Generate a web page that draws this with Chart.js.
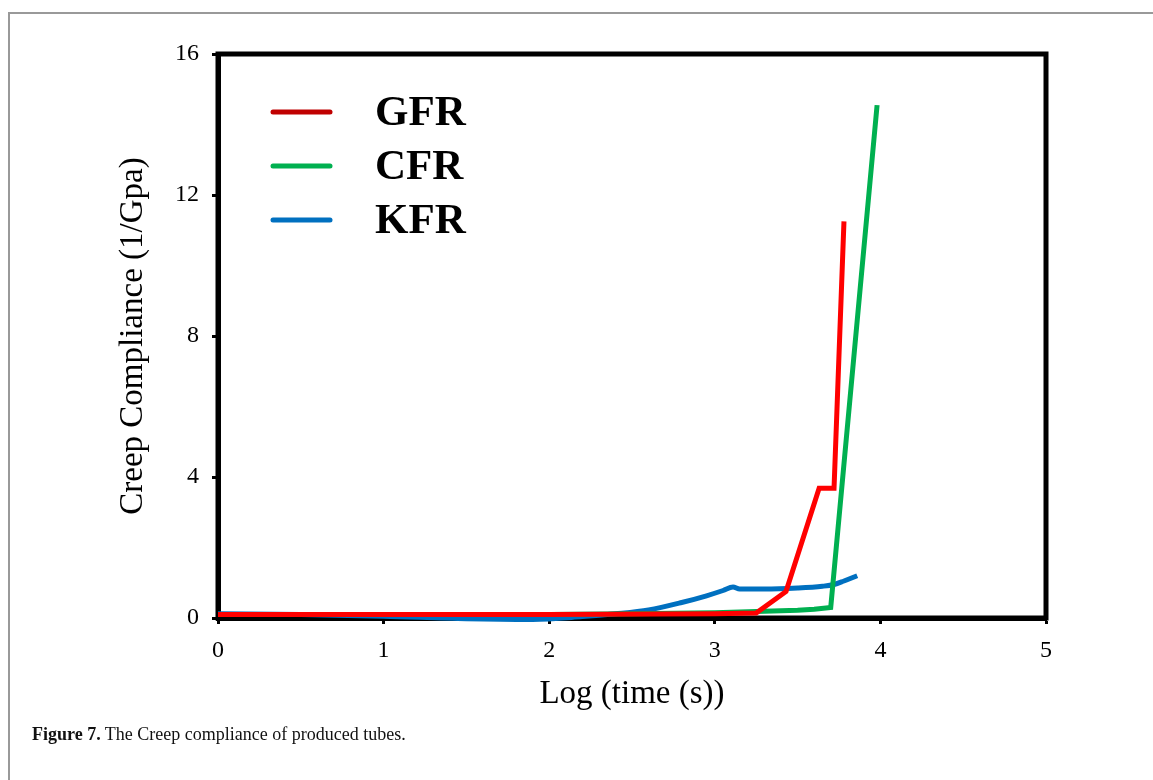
<!DOCTYPE html>
<html>
<head>
<meta charset="utf-8">
<script src="https://cdn.jsdelivr.net/npm/chart.js@4/dist/chart.umd.min.js"></script>
<style>
    html, body { margin: 0; padding: 0; background: #fff; overflow: hidden; }
    #frame {
        position: absolute; left: 8px; top: 12px; width: 1300px; height: 1000px;
        border-left: 2px solid #999; border-top: 2px solid #999;
    }
    #wrap { position: absolute; left: 0; top: 0; width: 1153px; height: 780px; }
    #caption {
        position: absolute; left: 32px; top: 724px;
        font-family: "Liberation Serif", serif; font-size: 18px; color: #111;
    }
</style>
</head>
<body>
<div id="frame"></div>
<div id="wrap"><canvas id="creep" width="1153" height="780"></canvas></div>
<div id="caption"><b>Figure 7.</b> The Creep compliance of produced tubes.</div>
<script>
// values: x = log(time), y = creep compliance (1/GPa)
const gfrX = [0, 1, 2, 3, 3.25, 3.43, 3.63, 3.72, 3.78];
const gfrY = [0.1, 0.1, 0.1, 0.12, 0.14, 0.75, 3.68, 3.68, 11.25];

const cfrX = [0, 1, 2, 2.5, 3, 3.3, 3.5, 3.6, 3.7, 3.98];
const cfrY = [0.1, 0.1, 0.1, 0.12, 0.15, 0.19, 0.22, 0.25, 0.3, 14.55];

const kfrX = [0, 0.5, 1, 1.5, 1.9, 2.2, 2.4, 2.6, 2.8, 2.95, 3.05, 3.11, 3.15, 3.3, 3.5, 3.65, 3.72, 3.78, 3.86];
const kfrY = [0.12, 0.1, 0.05, -0.02, -0.04, 0.04, 0.12, 0.23, 0.44, 0.63, 0.78, 0.88, 0.82, 0.82, 0.85, 0.9, 0.95, 1.05, 1.2];

const seriesNames = ["GFR", "CFR", "KFR"];
const seriesColors = ["#ff0000", "#00b050", "#0070c0"];
const legendColors = ["#c00000", "#00b050", "#0070c0"];
const xTicks = [0, 1, 2, 3, 4, 5];
const yTicks = [0, 4, 8, 12, 16];

const toPoints = (xs, ys) => xs.map((x, i) => ({ x: x, y: ys[i] }));

// black box round the plot area
const frameBox = {
    id: "frameBox",
    beforeDatasetsDraw(chart) {
        const a = chart.chartArea;
        const ctx = chart.ctx;
        ctx.save();
        ctx.strokeStyle = "#000";
        ctx.lineWidth = 5;
        ctx.strokeRect(a.left, a.top, a.right - a.left, a.bottom - a.top);
        ctx.restore();
    }
};

// legend drawn inside the plot, like the original
const innerLegend = {
    id: "innerLegend",
    afterDraw(chart) {
        const ctx = chart.ctx;
        ctx.save();
        ctx.font = "bold 43px 'Liberation Serif'";
        ctx.textBaseline = "middle";
        ctx.lineCap = "round";
        chart.data.datasets.forEach((ds, i) => {
            const y = 112 + i * 54;
            ctx.strokeStyle = legendColors[i];
            ctx.lineWidth = 5;
            ctx.beginPath();
            ctx.moveTo(273, y);
            ctx.lineTo(330, y);
            ctx.stroke();
            ctx.fillStyle = "#000";
            ctx.fillText(ds.label, 375, y + 2);
        });
        ctx.restore();
    }
};

const tickFont = { family: "Liberation Serif", size: 24 };
const titleFont = { family: "Liberation Serif", size: 33 };

new Chart(document.getElementById("creep"), {
    type: "line",
    data: {
        datasets: [
            { label: seriesNames[0], data: toPoints(gfrX, gfrY) },
            { label: seriesNames[1], data: toPoints(cfrX, cfrY) },
            { label: seriesNames[2], data: toPoints(kfrX, kfrY), cubicInterpolationMode: "monotone" },
        ].map((ds, i) => Object.assign({
            borderColor: seriesColors[i],
            backgroundColor: seriesColors[i],
            borderWidth: 5,
            pointRadius: 0,
            tension: 0,
            clip: false,
            borderJoinStyle: "miter",
        }, ds)),
    },
    options: {
        responsive: false,
        animation: false,
        layout: { padding: { top: 54, right: 107, left: 112, bottom: 64 } },
        plugins: {
            legend: { display: false },
            tooltip: { enabled: false },
        },
        scales: {
            x: {
                type: "linear",
                min: 0,
                max: 5,
                afterBuildTicks: (scale) => { scale.ticks = xTicks.map((v) => ({ value: v })); },
                afterFit: (scale) => { scale.height = 98; },
                ticks: { font: tickFont, color: "#000", padding: 12 },
                grid: { drawOnChartArea: false, drawTicks: true, tickLength: 6, tickWidth: 3, tickColor: "#000" },
                border: { display: true, color: "#000", width: 5 },
                title: { display: true, text: "Log (time (s))", font: titleFont, color: "#000", padding: 2 },
            },
            y: {
                type: "linear",
                min: 0,
                max: 16,
                afterBuildTicks: (scale) => { scale.ticks = yTicks.map((v) => ({ value: v })); },
                afterFit: (scale) => { scale.width = 106; },
                ticks: { font: tickFont, color: "#000", padding: 13 },
                grid: { drawOnChartArea: false, drawTicks: true, tickLength: 6, tickWidth: 3, tickColor: "#000" },
                border: { display: true, color: "#000", width: 5 },
                title: { display: true, text: "Creep Compliance (1/Gpa)", font: titleFont, color: "#000", padding: 2 },
            },
        },
    },
    plugins: [frameBox, innerLegend],
});
</script>
</body>
</html>
